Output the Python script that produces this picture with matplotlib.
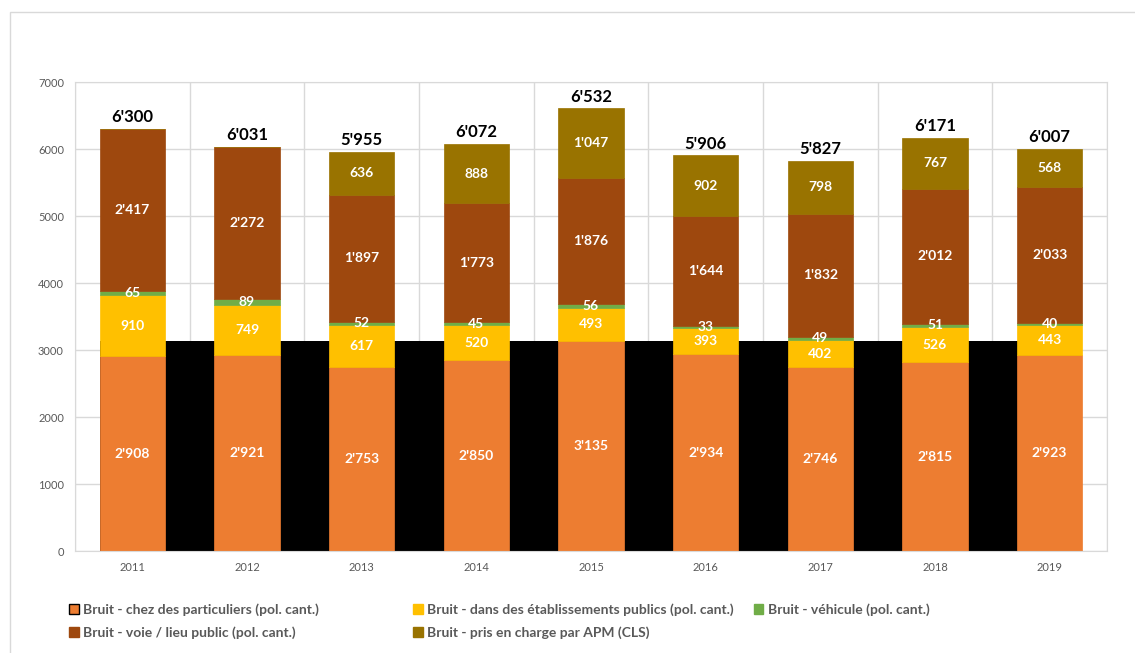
import matplotlib.pyplot as plt
import matplotlib.patches as mpatches
import numpy as np

plt.rcParams['font.family'] = ['Lato', 'DejaVu Sans']

# données
annees = ['2011', '2012', '2013', '2014', '2015', '2016', '2017', '2018', '2019']
particuliers = [2908, 2921, 2753, 2850, 3135, 2934, 2746, 2815, 2923]
etablissements = [910, 749, 617, 520, 493, 393, 402, 526, 443]
vehicule = [65, 89, 52, 45, 56, 33, 49, 51, 40]
voie = [2417, 2272, 1897, 1773, 1876, 1644, 1832, 2012, 2033]
apm = [0, 0, 636, 888, 1047, 902, 798, 767, 568]
# totaux tels qu'affichés sur l'original
totaux = [6300, 6031, 5955, 6072, 6532, 5906, 5827, 6171, 6007]

noms = ['Bruit - chez des particuliers (pol. cant.)',
        'Bruit - dans des établissements publics (pol. cant.)',
        'Bruit - véhicule (pol. cant.)',
        'Bruit - voie / lieu public (pol. cant.)',
        'Bruit - pris en charge par APM (CLS)']
couleurs = ['#ED7D31', '#FFC000', '#70AD47', '#9E480E', '#997300']
series = [particuliers, etablissements, vehicule, voie, apm]


def fmt(v):
    return f"{v:,}".replace(',', "'")


fig = plt.figure(figsize=(11.35, 6.53), dpi=100)
ax = fig.add_axes([0.0661, 0.1562, 0.9092, 0.7182])

# cadre gris autour du graphique
fig.patches.append(mpatches.Rectangle((0.0088, -0.1), 1.2, 0.1 + 0.9816, transform=fig.transFigure,
                                      fill=False, edgecolor='#d9d9d9', linewidth=1))

x = np.arange(len(annees))
w = 0.57

# zone noire derrière les barres (artefact de l'original)
ax.fill_between([x[0] - w / 2, x[-1] + w / 2], 0, max(particuliers), color='black', zorder=1, linewidth=0)

bas = np.zeros(len(annees))
for vals, c in zip(series, couleurs):
    vals = np.array(vals, dtype=float)
    ax.bar(x, vals, w, bottom=bas, color=c, zorder=2, edgecolor=c, linewidth=0.5)
    for xi, b, v in zip(x, bas, vals):
        if v > 0:
            ax.text(xi, b + v / 2, fmt(int(v)), ha='center', va='center', color='white',
                    fontsize=10, fontweight='bold', zorder=3)
    bas += vals

# totaux au-dessus
for xi, h, t in zip(x, bas, totaux):
    ax.text(xi, h + 55, fmt(t), ha='center', va='bottom', color='black',
            fontsize=12, fontweight='bold', zorder=3)

ax.set_xlim(-0.5, len(annees) - 0.5)
ax.set_ylim(0, 7000)
ax.set_yticks(range(0, 7001, 1000))
ax.set_xticks(x)
ax.set_xticklabels(annees)
ax.set_xticks(np.arange(-0.5, len(annees), 1), minor=True)
ax.tick_params(axis='both', which='both', length=0, labelsize=8, colors='#595959', pad=8)
ax.grid(True, axis='y', color='#d9d9d9', linewidth=1, zorder=0)
ax.grid(True, axis='x', which='minor', color='#d9d9d9', linewidth=1, zorder=0)
ax.grid(False, axis='x', which='major')
ax.set_axisbelow(True)
for s in ax.spines.values():
    s.set_color('#d9d9d9')

# légendes (trois colonnes)
handles = [mpatches.Patch(facecolor=c, edgecolor=c) for c in couleurs]
handles[0] = mpatches.Patch(facecolor=couleurs[0], edgecolor='black', linewidth=1)
groupes = [([0, 3], 0.050), ([1, 4], 0.353), ([2], 0.653)]
for idx, xpos in groupes:
    leg = fig.legend([handles[i] for i in idx], [noms[i] for i in idx], loc='upper left',
                     bbox_to_anchor=(xpos, 0.095), frameon=False, ncol=1,
                     prop={'weight': 'bold', 'size': 10}, labelcolor='#595959',
                     handlelength=0.7, handleheight=0.7, handletextpad=0.3, labelspacing=0.75)

fig.savefig('out.png', dpi=100)
